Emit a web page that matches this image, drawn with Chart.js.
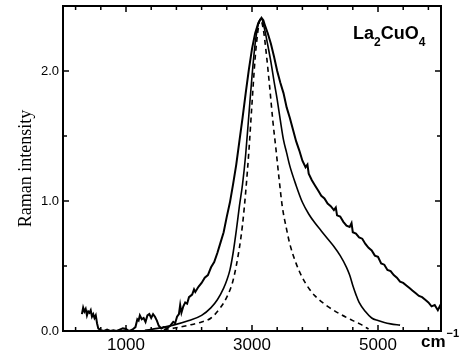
<!DOCTYPE html>
<html>
<head>
<meta charset="utf-8">
<script src="https://cdn.jsdelivr.net/npm/chart.js@4"></script>
<style>
html, body { margin: 0; padding: 0; background: #fff; }
</style>
</head>
<body>
<canvas id="grafica" width="467" height="364"></canvas>
<script>
// measured spectrum (noisy)
var expX = [300, 320, 340, 360, 380, 400, 420, 440, 460, 480, 500, 520, 540, 560, 600, 650, 700, 750, 800, 850, 900, 950, 1000, 1050, 1100, 1150, 1180, 1200, 1220, 1250, 1280, 1310, 1340, 1370, 1400, 1430, 1460, 1490, 1520, 1560, 1600, 1650, 1700, 1750, 1780, 1810, 1840, 1860, 1880, 1910, 1940, 1970, 2000, 2050, 2080, 2100, 2150, 2200, 2250, 2300, 2350, 2400, 2450, 2500, 2550, 2600, 2650, 2700, 2750, 2800, 2850, 2900, 2950, 3000, 3050, 3100, 3150, 3180, 3200, 3250, 3300, 3350, 3400, 3450, 3500, 3550, 3600, 3650, 3700, 3750, 3800, 3850, 3880, 3900, 3950, 4000, 4050, 4100, 4150, 4200, 4250, 4300, 4330, 4350, 4400, 4450, 4500, 4550, 4580, 4600, 4650, 4700, 4750, 4800, 4850, 4900, 4950, 5000, 5050, 5100, 5150, 5200, 5250, 5300, 5350, 5400, 5450, 5500, 5550, 5600, 5650, 5700, 5750, 5800, 5850, 5900, 5950, 5980, 6000];
var expY = [0.13, 0.18, 0.15, 0.17, 0.12, 0.15, 0.14, 0.16, 0.11, 0.13, 0.10, 0.12, 0.06, 0.02, 0.005, 0.0, 0.01, 0.0, 0.005, 0.0, 0.01, 0.02, 0.015, 0.0, 0.01, 0.03, 0.09, 0.08, 0.12, 0.09, 0.10, 0.07, 0.12, 0.13, 0.10, 0.13, 0.11, 0.08, 0.04, 0.02, 0.03, 0.02, 0.04, 0.07, 0.06, 0.11, 0.13, 0.20, 0.14, 0.19, 0.22, 0.21, 0.26, 0.28, 0.32, 0.30, 0.34, 0.37, 0.41, 0.43, 0.49, 0.53, 0.60, 0.68, 0.76, 0.88, 0.99, 1.13, 1.28, 1.46, 1.64, 1.83, 2.01, 2.17, 2.29, 2.37, 2.41, 2.39, 2.36, 2.29, 2.21, 2.11, 2.00, 1.91, 1.83, 1.72, 1.64, 1.55, 1.46, 1.39, 1.31, 1.26, 1.28, 1.21, 1.16, 1.12, 1.08, 1.04, 1.02, 0.98, 0.96, 0.93, 0.95, 0.89, 0.88, 0.84, 0.81, 0.80, 0.83, 0.76, 0.75, 0.72, 0.71, 0.67, 0.64, 0.62, 0.58, 0.57, 0.52, 0.51, 0.47, 0.46, 0.43, 0.41, 0.38, 0.37, 0.35, 0.33, 0.31, 0.29, 0.27, 0.26, 0.24, 0.22, 0.19, 0.20, 0.16, 0.19, 0.17];

// calculated curve (solid)
var calcX = [1300, 1500, 1750, 2000, 2200, 2350, 2450, 2550, 2600, 2650, 2700, 2750, 2800, 2850, 2900, 2950, 3000, 3050, 3100, 3150, 3200, 3250, 3300, 3350, 3400, 3450, 3500, 3550, 3600, 3700, 3800, 3900, 4000, 4100, 4200, 4300, 4400, 4500, 4550, 4600, 4650, 4700, 4800, 4900, 5000, 5100, 5200, 5350];
var calcY = [0.005, 0.02, 0.045, 0.08, 0.12, 0.18, 0.24, 0.33, 0.39, 0.47, 0.60, 0.77, 0.96, 1.13, 1.36, 1.66, 1.96, 2.21, 2.36, 2.40, 2.32, 2.20, 2.07, 1.92, 1.78, 1.62, 1.47, 1.37, 1.27, 1.12, 0.99, 0.90, 0.83, 0.77, 0.71, 0.65, 0.58, 0.49, 0.43, 0.35, 0.28, 0.22, 0.15, 0.10, 0.08, 0.065, 0.055, 0.045];

// calculated curve (dashed)
var dashX = [1600, 1800, 2000, 2200, 2350, 2500, 2600, 2700, 2800, 2850, 2900, 2950, 3000, 3050, 3100, 3130, 3180, 3230, 3280, 3330, 3380, 3430, 3480, 3550, 3600, 3700, 3800, 3900, 4000, 4200, 4400, 4600, 4750, 4850];
var dashY = [0.01, 0.025, 0.045, 0.07, 0.10, 0.18, 0.26, 0.39, 0.64, 0.82, 1.07, 1.38, 1.75, 2.10, 2.33, 2.40, 2.32, 2.12, 1.88, 1.62, 1.40, 1.17, 0.96, 0.78, 0.67, 0.52, 0.41, 0.33, 0.27, 0.19, 0.13, 0.08, 0.045, 0.015];

var xLabelTicks = [1000, 3000, 5000];
var xMarkTicks = [200, 600, 1000, 1400, 1800, 2200, 2600, 3000, 3400, 3800, 4200, 4600, 5000, 5400, 5800];
var yLabelTicks = [0, 1, 2];
var yMarkTicks = [0, 0.5, 1, 1.5, 2, 2.5];

function pts(xs, ys) {
	var out = [];
	for (var i = 0; i < xs.length; i++) out.push({x: xs[i], y: ys[i]});
	return out;
}

var frame = {
	id: 'frame',
	afterDraw: function(chart) {
		var ctx = chart.ctx, a = chart.chartArea;
		var sx = chart.scales.x, sy = chart.scales.y;
		ctx.save();
		ctx.strokeStyle = '#000';
		ctx.lineWidth = 2;
		ctx.strokeRect(a.left, a.top, a.right - a.left, a.bottom - a.top);
		ctx.lineWidth = 1.5;
		ctx.beginPath();
		xMarkTicks.forEach(function(v) {
			var p = sx.getPixelForValue(v);
			var len = xLabelTicks.indexOf(v) >= 0 ? 6 : 4;
			ctx.moveTo(p, a.bottom); ctx.lineTo(p, a.bottom - len);
			ctx.moveTo(p, a.top); ctx.lineTo(p, a.top + len);
		});
		yMarkTicks.forEach(function(v) {
			var p = sy.getPixelForValue(v);
			var len = yLabelTicks.indexOf(v) >= 0 ? 6 : 4;
			ctx.moveTo(a.left, p); ctx.lineTo(a.left + len, p);
			ctx.moveTo(a.right, p); ctx.lineTo(a.right - len, p);
		});
		ctx.stroke();

		ctx.fillStyle = '#000';
		ctx.textBaseline = 'alphabetic';
		ctx.textAlign = 'left';
		// compound label
		var x = 353, big = 'bold 18px "Liberation Sans", Arial, sans-serif', small = 'bold 12px "Liberation Sans", Arial, sans-serif';
		[['La', big, 39], ['2', small, 46], ['CuO', big, 39], ['4', small, 46]].forEach(function(s) {
			ctx.font = s[1];
			ctx.fillText(s[0], x, s[2]);
			x += ctx.measureText(s[0]).width;
		});
		// unit
		x = 421;
		ctx.font = 'bold 17px "Liberation Sans", Arial, sans-serif';
		ctx.fillText('cm', x, 347);
		x += ctx.measureText('cm').width + 1;
		ctx.font = 'bold 11px "Liberation Sans", Arial, sans-serif';
		ctx.fillText('\u22121', x, 337);
		ctx.restore();
	}
};

var ctx = document.getElementById('grafica');
var myChart = new Chart(ctx, {
	type: 'scatter',
	data: {
		datasets: [{
			label: 'experiment',
			data: pts(expX, expY),
			showLine: true,
			borderColor: '#000',
			borderWidth: 2,
			pointRadius: 0,
			tension: 0
		}, {
			label: 'calc',
			data: pts(calcX, calcY),
			showLine: true,
			borderColor: '#000',
			borderWidth: 1.6,
			pointRadius: 0,
			cubicInterpolationMode: 'monotone'
		}, {
			label: 'calc dashed',
			data: pts(dashX, dashY),
			showLine: true,
			borderColor: '#000',
			borderWidth: 1.6,
			borderDash: [5, 4],
			pointRadius: 0,
			cubicInterpolationMode: 'monotone'
		}]
	},
	options: {
		responsive: false,
		animation: false,
		layout: { padding: { top: 6, right: 26, left: 0, bottom: 0 } },
		plugins: { legend: { display: false }, tooltip: { enabled: false } },
		scales: {
			x: {
				type: 'linear',
				min: 0,
				max: 6000,
				grid: { display: false, drawTicks: false },
				border: { display: false },
				afterBuildTicks: function(s) { s.ticks = xLabelTicks.map(function(v) { return {value: v}; }); },
				afterFit: function(s) { s.height = 33; s.paddingLeft = 0; s.paddingRight = 0; },
				ticks: {
					padding: 4,
					color: '#000',
					font: { family: '"Liberation Sans", Arial, sans-serif', size: 17 },
					callback: function(v) { return String(v); }
				}
			},
			y: {
				min: 0,
				max: 2.5,
				grid: { display: false, drawTicks: false },
				border: { display: false },
				afterBuildTicks: function(s) { s.ticks = yLabelTicks.map(function(v) { return {value: v}; }); },
				afterFit: function(s) { s.width = 63; s.paddingTop = 0; s.paddingBottom = 0; },
				ticks: {
					padding: 4,
					color: '#000',
					font: { family: '"Liberation Sans", Arial, sans-serif', size: 13 },
					callback: function(v) { return v.toFixed(1); }
				},
				title: {
					display: true,
					text: 'Raman intensity',
					color: '#000',
					padding: { top: 15 },
					font: { family: '"Liberation Serif", "Times New Roman", serif', size: 18 }
				}
			}
		}
	},
	plugins: [frame]
});
</script>
</body>
</html>
